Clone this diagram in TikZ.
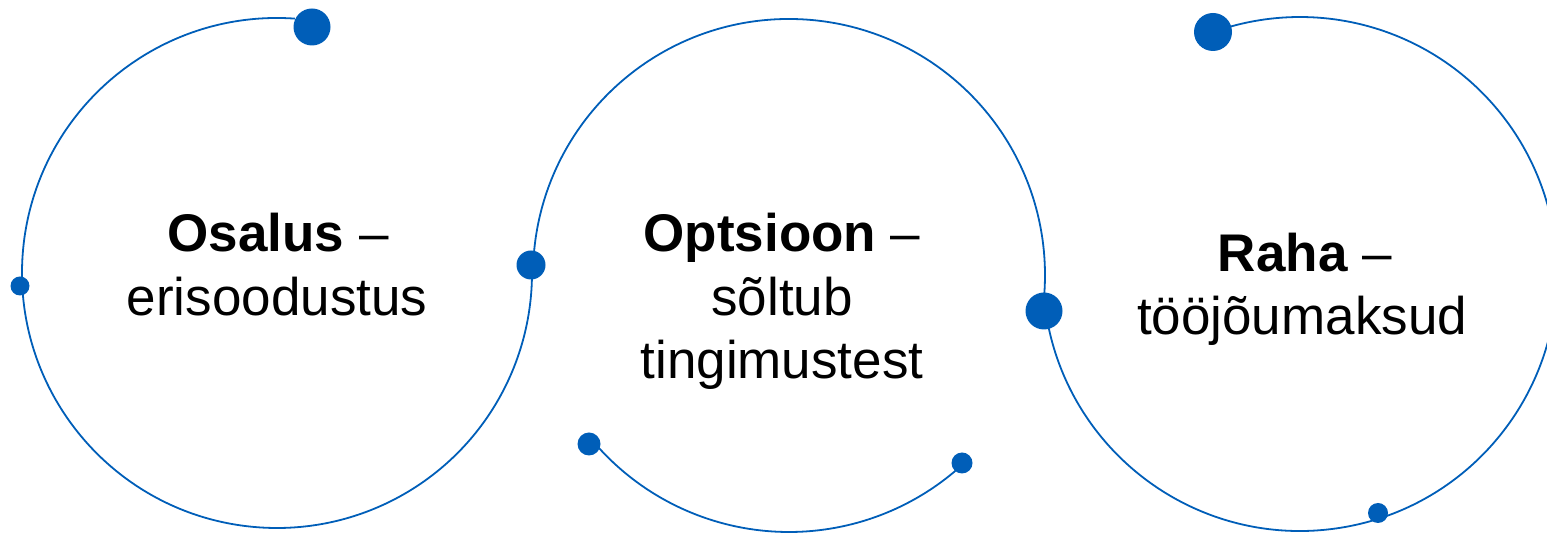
\documentclass[tikz,border=0pt]{standalone}
\usepackage{fontspec}
\setmainfont{Liberation Sans}
\definecolor{arcblue}{RGB}{0,94,184}
\begin{document}
\begin{tikzpicture}[x=1pt,y=1pt,
  arcline/.style={draw=arcblue,line width=1.8pt},
  dotnode/.style={circle,fill=arcblue,inner sep=0pt,minimum size=#1},
  lbl/.style={anchor=base,inner sep=0pt,font=\fontsize{53}{64}\selectfont}]
\useasboundingbox (0,0) rectangle (1547,537);
\clip (0,0) rectangle (1547,537);
% centres
\coordinate (c1) at (277,264);
\coordinate (c2) at (789,262);
\coordinate (c3) at (1300,263);
% arcs
\draw[arcline] ([shift={(86:255)}]c1) arc[start angle=86,end angle=361.8,radius=255];
\draw[arcline] ([shift={(177:256)}]c2) arc[start angle=177,end angle=-7.4,radius=256];
\draw[arcline] ([shift={(220.2:257)}]c2) arc[start angle=220.2,end angle=312.6,radius=257];
\draw[arcline] ([shift={(188.2:257)}]c3) arc[start angle=188.2,end angle=469.5,radius=257];
% dots
\node[dotnode=37pt] (d1) at (312,510) {};
\node[dotnode=19pt] (d2) at (20,251) {};
\node[dotnode=29pt] (d3) at (531,272) {};
\node[dotnode=37pt] (d4) at (1044,226) {};
\node[dotnode=23pt] (d5) at (589,93) {};
\node[dotnode=21pt] (d6) at (962,74) {};
\node[dotnode=38pt] (d7) at (1213,505) {};
\node[dotnode=20pt] (d8) at (1378,24) {};
% texts
\node[lbl] (t1a) at (278,285) {\textbf{Osalus} –};
\node[lbl] (t1b) at (277,221) {erisoodustus};
\node[lbl] (t2a) at (782,285) {\textbf{Optsioon} –};
\node[lbl] (t2b) at (782,221) {sõltub};
\node[lbl] (t2c) at (782,158) {tingimustest};
\node[lbl] (t3a) at (1305,265) {\textbf{Raha} –};
\node[lbl] (t3b) at (1302,202) {tööjõumaksud};
\end{tikzpicture}
\end{document}
